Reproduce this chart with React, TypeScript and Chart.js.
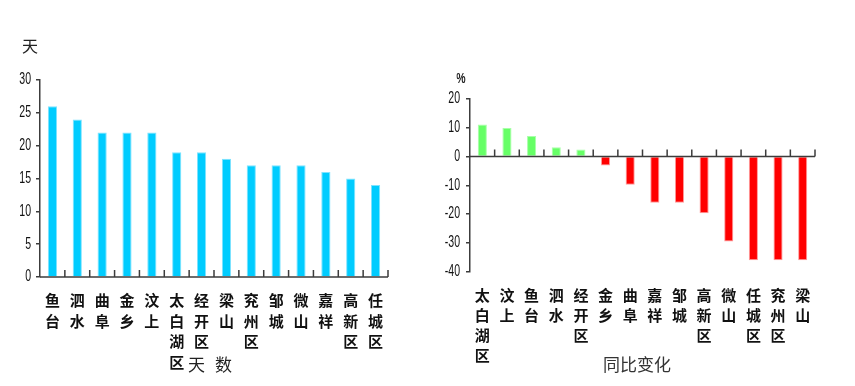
import React, { useEffect, useRef } from 'react';
import { Chart, registerables } from 'chart.js';

Chart.register(...registerables);

// ---- Data ----
const daysCategories = ['鱼台', '泗水', '曲阜', '金乡', '汶上', '太白湖区', '经开区', '梁山', '兖州区', '邹城', '微山', '嘉祥', '高新区', '任城区'];
const daysValues = [26, 24, 22, 22, 22, 19, 19, 18, 17, 17, 17, 16, 15, 14];
const daysAxis = { min: 0, max: 30, step: 5 };

const changeCategories = ['太白湖区', '汶上', '鱼台', '泗水', '经开区', '金乡', '曲阜', '嘉祥', '邹城', '高新区', '微山', '任城区', '兖州区', '梁山'];
const changeValues = [11.1, 9.9, 7.1, 3.2, 2.4, -3.1, -9.8, -16.1, -16.1, -19.7, -29.6, -36.1, -36.1, -36.1];
const changeAxis = { min: -40, max: 20, step: 10 };

// ---- Styles ----
const AXIS_COLOR = '#3c3c3c';
const NUM_FONT = '"Liberation Sans", Arial, sans-serif';
const CJK_FONT = '"Noto Sans CJK SC", "Noto Sans", sans-serif';

const categoryTicksPlugin = {
  id: 'categoryTicks',
  afterDatasetsDraw(chart: any) {
    const { ctx, chartArea, scales } = chart;
    const x = scales.x;
    const y = scales.y;
    const y0 = y.getPixelForValue(0);
    const n = chart.data.labels.length;
    ctx.save();
    ctx.strokeStyle = AXIS_COLOR;
    ctx.lineWidth = 1.5;
    ctx.beginPath();
    ctx.moveTo(chartArea.left, y0);
    ctx.lineTo(chartArea.right, y0);
    for (let i = 0; i < n; i++) {
      const bx = i < n - 1 ? (x.getPixelForValue(i) + x.getPixelForValue(i + 1)) / 2 : chartArea.right;
      ctx.moveTo(bx, y0);
      ctx.lineTo(bx, y0 - 7);
    }
    ctx.stroke();
    ctx.restore();
  },
};

// draws the y tick labels of the value scale in a narrow (condensed) face
const narrowYLabelsPlugin = {
  id: 'narrowYLabels',
  afterDraw(chart: any, _args: any, pluginOpts: any) {
    const { ctx, chartArea, scales } = chart;
    const y = scales.y;
    const xRight = chartArea.left - 4 - (pluginOpts.pad || 5);
    ctx.save();
    ctx.fillStyle = '#111';
    ctx.font = `16px ${NUM_FONT}`;
    ctx.textAlign = 'right';
    ctx.textBaseline = 'middle';
    for (const t of y.ticks) {
      const py = y.getPixelForValue(t.value);
      ctx.save();
      ctx.translate(xRight, py);
      ctx.scale(0.66, 1);
      ctx.fillText(String(t.label), 0, 0);
      ctx.restore();
    }
    ctx.restore();
  },
};

function makeConfig(opts: {
  labels: string[];
  values: number[];
  bg: string[];
  border: string[];
  axis: { min: number; max: number; step: number };
  yWidth: number;
  xHeight: number;
  padding: { left: number; right: number; top: number; bottom: number };
  yPad: number;
  xPad: number;
  lineHeight: string;
  barPct: number;
}): any {
  return {
    type: 'bar',
    data: {
      labels: opts.labels.map((s) => s.split('')),
      datasets: [
        {
          data: opts.values,
          backgroundColor: opts.bg,
          borderColor: opts.border,
          borderWidth: 1,
          categoryPercentage: 1,
          barPercentage: opts.barPct,
        },
      ],
    },
    options: {
      responsive: false,
      animation: false,
      layout: { padding: opts.padding },
      plugins: {
        legend: { display: false },
        tooltip: { enabled: false },
        title: { display: false },
        narrowYLabels: { pad: opts.yPad },
      },
      scales: {
        x: {
          grid: { display: false, drawTicks: false },
          border: { display: false },
          ticks: {
            autoSkip: false,
            maxRotation: 0,
            minRotation: 0,
            padding: opts.xPad,
            color: '#111',
            font: { family: CJK_FONT, size: 15, weight: 'bold', lineHeight: opts.lineHeight },
          },
          afterFit: (s: any) => {
            s.height = opts.xHeight;
          },
        },
        y: {
          min: opts.axis.min,
          max: opts.axis.max,
          grid: { drawOnChartArea: false, drawTicks: true, tickLength: 4, color: AXIS_COLOR, lineWidth: 1.5 },
          border: { display: true, color: AXIS_COLOR, width: 1.5 },
          ticks: {
            stepSize: opts.axis.step,
            padding: opts.yPad,
            color: 'rgba(0,0,0,0)',
            font: { family: NUM_FONT, size: 15 },
          },
          afterFit: (s: any) => {
            s.width = opts.yWidth;
          },
        },
      },
    },
    plugins: [categoryTicksPlugin, narrowYLabelsPlugin],
  };
}

export default function App() {
  const leftRef = useRef<HTMLCanvasElement | null>(null);
  const rightRef = useRef<HTMLCanvasElement | null>(null);

  useEffect(() => {
    const left = new Chart(
      leftRef.current as HTMLCanvasElement,
      makeConfig({
        labels: daysCategories,
        values: daysValues,
        bg: daysValues.map(() => '#00CCFF'),
        border: daysValues.map(() => '#7FE3FF'),
        axis: daysAxis,
        yWidth: 40,
        xHeight: 109,
        padding: { left: 0, right: 42, top: 80, bottom: 0 },
        yPad: 5,
        xPad: 13,
        lineHeight: '20.6px',
        barPct: 0.37,
      })
    );
    const right = new Chart(
      rightRef.current as HTMLCanvasElement,
      makeConfig({
        labels: changeCategories,
        values: changeValues,
        bg: changeValues.map((v) => (v >= 0 ? '#66FF66' : '#FF0000')),
        border: changeValues.map((v) => (v >= 0 ? '#A8FFA8' : '#FF9A9A')),
        axis: changeAxis,
        yWidth: 40,
        xHeight: 114.5,
        padding: { left: 0, right: 40, top: 99, bottom: 0 },
        yPad: 6,
        xPad: 13.5,
        lineHeight: '20px',
        barPct: 0.37,
      })
    );
    return () => {
      left.destroy();
      right.destroy();
    };
  }, []);

  const textBase: React.CSSProperties = {
    position: 'absolute',
    transform: 'translate(-50%, -50%)',
    fontFamily: CJK_FONT,
    color: '#222',
    whiteSpace: 'nowrap',
    lineHeight: 1,
  };

  return (
    <div style={{ position: 'fixed', left: 0, top: 0, width: 855, height: 386, background: '#fff', overflow: 'hidden' }}>
      <canvas ref={leftRef} width={430} height={386} style={{ position: 'absolute', left: 0, top: 0, width: 430, height: 386 }} />
      <canvas ref={rightRef} width={425} height={386} style={{ position: 'absolute', left: 430, top: 0, width: 425, height: 386 }} />
      <div style={{ ...textBase, left: 30, top: 45, fontSize: 16 }}>天</div>
      <div style={{ ...textBase, left: 210, top: 363, fontSize: 17, wordSpacing: 6 }}>天 数</div>
      <div style={{ ...textBase, left: 461, top: 78, fontSize: 14, fontWeight: 'bold', fontFamily: NUM_FONT, transform: 'translate(-50%, -50%) scaleX(0.75)' }}>%</div>
      <div style={{ ...textBase, left: 637, top: 363, fontSize: 17, color: '#333' }}>同比变化</div>
    </div>
  );
}
